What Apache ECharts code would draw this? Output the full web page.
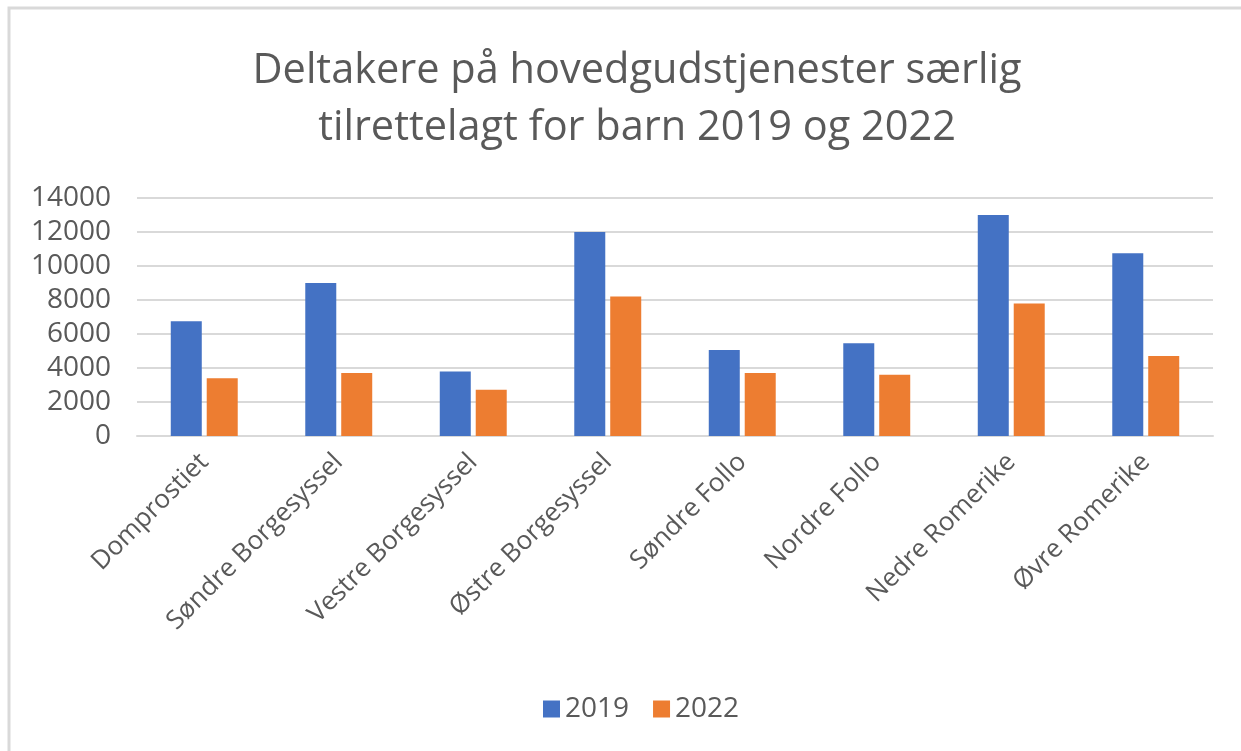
<!DOCTYPE html>
<html>
<head>
<meta charset="utf-8">
<script src="https://cdn.jsdelivr.net/npm/echarts@6/dist/echarts.min.js"></script>
<style>
	* { margin: 0; padding: 0; }
	body { background: #fff; }
</style>
</head>
<body>
<div id="main" style="width: 1241px; height: 751px;"></div>
<script>
	// data
	var categories = ['Domprostiet', 'Søndre Borgesyssel', 'Vestre Borgesyssel', 'Østre Borgesyssel',
		'Søndre Follo', 'Nordre Follo', 'Nedre Romerike', 'Øvre Romerike'];
	var values2019 = [6750, 9000, 3800, 12000, 5060, 5450, 13000, 10750];
	var values2022 = [3400, 3700, 2720, 8200, 3700, 3600, 7800, 4700];
	var yTicks = [0, 2000, 4000, 6000, 8000, 10000, 12000, 14000];

	var font = '"Open Sans", sans-serif';
	var grey = '#595959';

	var chart = echarts.init(document.getElementById('main'));
	chart.setOption({
		animation: false,
		textStyle: { fontFamily: font },
		graphic: [{
			type: 'rect',
			shape: { x: 9, y: 8, width: 1400, height: 900 },
			style: { fill: 'none', stroke: '#d9d9d9', lineWidth: 3 }
		}],
		title: {
			text: 'Deltakere på hovedgudstjenester særlig\ntilrettelagt for barn 2019 og 2022',
			left: 632,
			textAlign: 'center',
			top: 38,
			textStyle: { fontFamily: font, fontSize: 41.5, fontWeight: 'normal', color: grey, lineHeight: 57 }
		},
		legend: {
			data: ['2019', '2022'],
			top: 690,
			left: 538,
			itemWidth: 17,
			itemHeight: 17,
			itemGap: 24,
			icon: 'rect',
			textStyle: { fontFamily: font, fontSize: 28, color: grey }
		},
		grid: { left: 137, right: 28, top: 198, bottom: 315 },
		xAxis: {
			type: 'category',
			data: categories,
			axisLine: { lineStyle: { color: '#d9d9d9', width: 2 } },
			axisTick: { show: false },
			axisLabel: { rotate: 45, interval: 0, fontFamily: font, fontSize: 26, color: grey, margin: 22 }
		},
		yAxis: {
			type: 'value',
			min: yTicks[0],
			max: yTicks[yTicks.length - 1],
			interval: 2000,
			axisLine: { show: false },
			axisTick: { show: false },
			splitLine: { lineStyle: { color: '#d9d9d9', width: 2 } },
			axisLabel: { fontFamily: font, fontSize: 28, color: grey, margin: 26, formatter: function (v) { return String(v); } }
		},
		series: [{
			name: '2019',
			type: 'bar',
			data: values2019,
			barWidth: 31,
			barGap: '16%',
			itemStyle: { color: '#4472c4' }
		}, {
			name: '2022',
			type: 'bar',
			data: values2022,
			barWidth: 31,
			itemStyle: { color: '#ed7d31' }
		}]
	});
</script>
</body>
</html>
